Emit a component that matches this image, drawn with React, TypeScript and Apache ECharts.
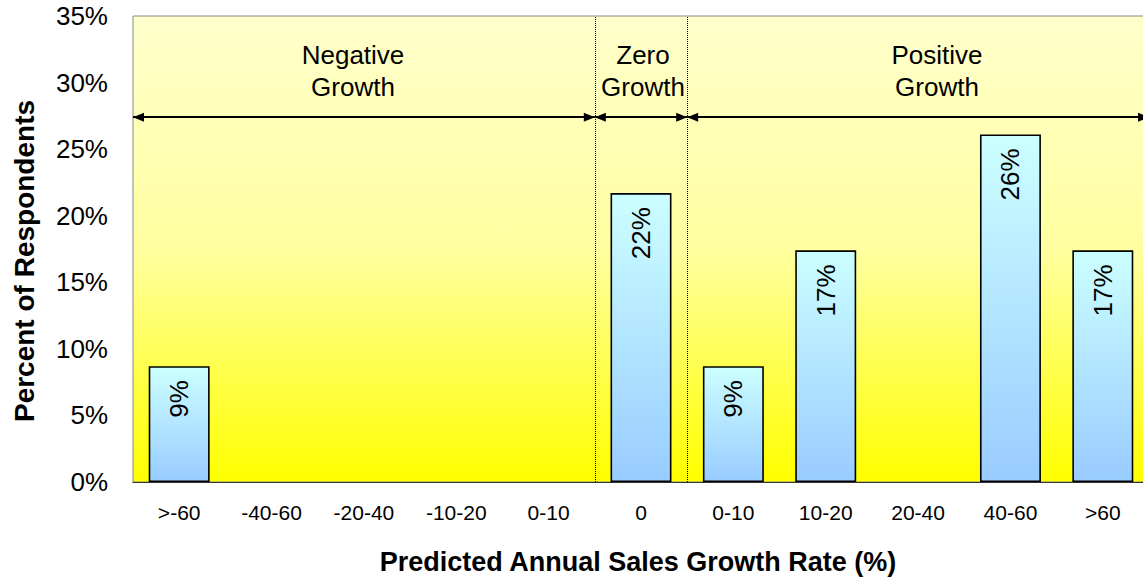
import React, { useEffect, useRef } from 'react';
import * as echarts from 'echarts';

const categories = ['>-60', '-40-60', '-20-40', '-10-20', '0-10', '0', '0-10', '10-20', '20-40', '40-60', '>60'];
const percentRespondents = [8.7, 0, 0, 0, 0, 21.7, 8.7, 17.4, 0, 26.1, 17.4];
const yMin = 0;
const yMax = 35;
const yStep = 5;

const groupLabels = ['Negative\nGrowth', 'Zero\nGrowth', 'Positive\nGrowth'];
const groupStart = [0, 5, 6];
const groupEnd = [5, 6, 11];
const groupDividers = [5, 6];
const arrowLevel = 27.4;

const FONT = '"Liberation Sans", Arial, Helvetica, sans-serif';

export default function App() {
  const ref = useRef<HTMLDivElement>(null);

  useEffect(() => {
    if (!ref.current) return;
    const chart = echarts.init(ref.current, null, { renderer: 'svg' });
    const groupLabelX = [353, 643, 937];

    chart.setOption({
      animation: false,
      grid: {
        left: 133,
        right: 3,
        top: 16,
        bottom: 99,
        show: true,
        backgroundColor: new echarts.graphic.LinearGradient(0, 0, 0, 1, [
          { offset: 0, color: '#FFFFCC' },
          { offset: 0.5, color: '#FFFFA0' },
          { offset: 1, color: '#FFFF00' },
        ]),
        borderColor: '#888888',
        borderWidth: 1,
      },
      xAxis: [
        {
          type: 'category',
          data: categories,
          boundaryGap: true,
          axisLine: { lineStyle: { color: '#333', width: 1 } },
          axisTick: { length: 7, lineStyle: { color: '#333' } },
          axisLabel: { fontSize: 21, color: '#000', margin: 20, fontFamily: FONT },
        },
        { type: 'value', min: 0, max: categories.length, show: false },
      ],
      yAxis: {
        type: 'value',
        min: yMin,
        max: yMax,
        interval: yStep,
        axisLine: { show: false },
        axisTick: { show: false },
        splitLine: { show: false },
        axisLabel: { formatter: '{value}%', fontSize: 26, color: '#000', margin: 25, fontFamily: FONT },
      },
      series: [
        {
          type: 'bar',
          xAxisIndex: 0,
          data: percentRespondents.map((v) => (v > 0 ? v : '-')),
          barWidth: '66%',
          itemStyle: {
            color: new echarts.graphic.LinearGradient(0, 0, 0, 1, [
              { offset: 0, color: '#CCFFFF' },
              { offset: 1, color: '#99CCFF' },
            ]),
            borderColor: '#000',
            borderWidth: 1.6,
          },
          label: {
            show: true,
            position: 'insideTop',
            rotate: 90,
            align: 'right',
            verticalAlign: 'middle',
            distance: 14,
            fontSize: 26,
            color: '#000',
            fontFamily: FONT,
            formatter: (p: any) => Math.round(p.value) + '%',
          },
        },
        {
          type: 'line',
          xAxisIndex: 1,
          data: [],
          markLine: {
            silent: true,
            symbol: 'none',
            label: { show: false },
            lineStyle: { color: '#000', type: 'dotted', width: 1 },
            data: groupDividers.map((x) => ({ xAxis: x })),
          },
        },
        {
          type: 'line',
          xAxisIndex: 1,
          data: [],
          markLine: {
            silent: true,
            symbol: ['triangle', 'triangle'],
            symbolSize: [9, 11],
            symbolOffset: [[0, '50%'], [0, '50%']],
            label: { show: false },
            lineStyle: { color: '#000', type: 'solid', width: 2 },
            data: groupStart.map((s, i) => [
              { coord: [s, arrowLevel] },
              { coord: [groupEnd[i], arrowLevel] },
            ]),
          },
        },
      ],
      graphic: [
        ...groupLabels.map((t, i) => ({
          type: 'text',
          x: groupLabelX[i],
          y: 71,
          style: {
            text: t,
            fontSize: 26,
            fontFamily: FONT,
            fill: '#000',
            align: 'center',
            verticalAlign: 'middle',
            lineHeight: 32,
          },
        })),
        {
          type: 'text',
          x: 24,
          y: 261,
          rotation: Math.PI / 2,
          style: {
            text: 'Percent of Respondents',
            fontSize: 28,
            fontWeight: 'bold',
            fontFamily: FONT,
            fill: '#000',
            align: 'center',
            verticalAlign: 'middle',
          },
        },
        {
          type: 'text',
          x: 638,
          y: 562,
          style: {
            text: 'Predicted Annual Sales Growth Rate (%)',
            fontSize: 27,
            fontWeight: 'bold',
            fontFamily: FONT,
            fill: '#000',
            align: 'center',
            verticalAlign: 'middle',
          },
        },
      ],
    });

    return () => chart.dispose();
  }, []);

  return (
    <div style={{ position: 'fixed', left: 0, top: 0, width: 1143, height: 581, overflow: 'hidden', background: '#fff' }}>
      <div ref={ref} style={{ width: 1152, height: 581 }} />
    </div>
  );
}
